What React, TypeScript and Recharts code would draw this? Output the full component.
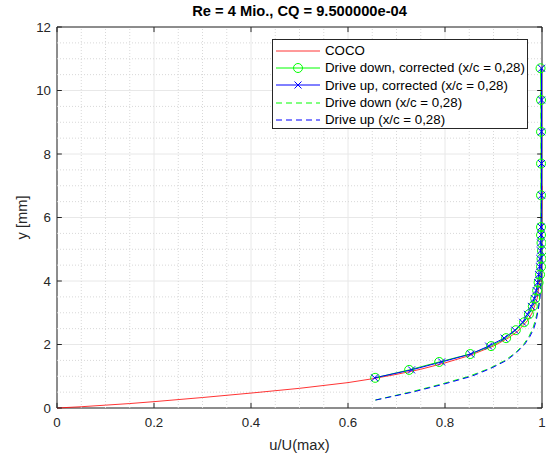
import React from 'react';
import {
  ComposedChart,
  Line,
  XAxis,
  YAxis,
  CartesianGrid,
  ReferenceLine,
  ReferenceArea,
} from 'recharts';

// axis ticks
const xTicks = [0, 0.2, 0.4, 0.6, 0.8, 1];
const yTicks = [0, 2, 4, 6, 8, 10, 12];
const xMinor = [0.05, 0.1, 0.15, 0.25, 0.3, 0.35, 0.45, 0.5, 0.55, 0.65, 0.7, 0.75, 0.85, 0.9, 0.95];
const yMinor = [0.5, 1, 1.5, 2.5, 3, 3.5, 4.5, 5, 5.5, 6.5, 7, 7.5, 8.5, 9, 9.5, 10.5, 11, 11.5];

// COCO reference profile
const cocoU = [0, 0.05, 0.1, 0.15, 0.2, 0.3, 0.4, 0.5, 0.6, 0.65, 0.7, 0.75, 0.8, 0.85, 0.9, 0.93, 0.95, 0.97, 0.98, 0.99, 0.995, 0.998, 0.999, 1.0];
const cocoY = [0, 0.04, 0.09, 0.14, 0.2, 0.33, 0.47, 0.62, 0.8, 0.92, 1.06, 1.22, 1.42, 1.65, 1.95, 2.2, 2.42, 2.75, 3.0, 3.45, 3.95, 4.7, 5.6, 7.0];

// corrected measurements
const corrY = [0.95, 1.2, 1.45, 1.7, 1.95, 2.2, 2.45, 2.7, 2.95, 3.2, 3.45, 3.7, 3.95, 4.2, 4.45, 4.7, 4.95, 5.2, 5.45, 5.7, 6.7, 7.7, 8.7, 9.7, 10.7];
const downCorrU = [0.656, 0.726, 0.788, 0.852, 0.895, 0.926, 0.946, 0.963, 0.973, 0.981, 0.986, 0.99, 0.993, 0.996, 0.998, 0.999, 1.0, 0.999, 0.998, 0.998, 0.998, 0.998, 0.998, 0.998, 0.997];
const upCorrU = [0.655, 0.731, 0.793, 0.853, 0.89, 0.922, 0.944, 0.96, 0.97, 0.978, 0.984, 0.988, 0.991, 0.993, 0.995, 0.996, 0.997, 0.997, 0.998, 0.998, 0.999, 0.999, 0.999, 0.999, 0.999];

// raw measurements (x/c = 0,28)
const rawY = [0.25, 0.5, 0.75, 1.0, 1.25, 1.5, 1.75, 2.0, 2.25, 2.5, 2.75, 3.0, 3.25, 3.5, 3.75, 4.0, 4.25, 4.5, 4.75, 5.0, 6.0, 7.0, 8.0, 9.0, 10.0];
const downRawU = [0.656, 0.728, 0.792, 0.85, 0.892, 0.924, 0.946, 0.962, 0.973, 0.981, 0.986, 0.99, 0.993, 0.995, 0.997, 0.998, 0.999, 0.999, 0.998, 0.998, 0.998, 0.998, 0.998, 0.998, 0.997];
const upRawU = [0.657, 0.733, 0.797, 0.855, 0.895, 0.927, 0.948, 0.964, 0.975, 0.983, 0.988, 0.991, 0.994, 0.996, 0.997, 0.998, 0.999, 0.999, 0.999, 0.999, 0.999, 0.999, 0.999, 0.999, 0.999];

const toPoints = (u: number[], y: number[]) => u.map((v, i) => ({ u: v, y: y[i] }));

const coco = toPoints(cocoU, cocoY);
const downCorr = toPoints(downCorrU, corrY);
const upCorr = toPoints(upCorrU, corrY);
const downRaw = toPoints(downRawU, rawY);
const upRaw = toPoints(upRawU, rawY);

const FONT = 'Arial, "Liberation Sans", Helvetica, sans-serif';
const AXIS_COLOR = '#262626';

const CrossDot = (props: any) => {
  const { cx, cy } = props;
  if (cx == null || cy == null) return <g />;
  const s = 3.5;
  return (
    <path
      d={`M${cx - s},${cy - s}L${cx + s},${cy + s}M${cx - s},${cy + s}L${cx + s},${cy - s}`}
      stroke="#0000ff"
      strokeWidth={1}
      fill="none"
    />
  );
};

const legendItems = [
  { name: 'COCO', color: '#ff0000', dash: undefined, marker: 'none' },
  { name: 'Drive down, corrected (x/c = 0,28)', color: '#00ff00', dash: undefined, marker: 'circle' },
  { name: 'Drive up, corrected (x/c = 0,28)', color: '#0000ff', dash: undefined, marker: 'cross' },
  { name: 'Drive down (x/c = 0,28)', color: '#00ff00', dash: '6 4', marker: 'none' },
  { name: 'Drive up (x/c = 0,28)', color: '#0000ff', dash: '6 4', marker: 'none' },
];

function ChartLegend() {
  return (
    <div
      style={{
        position: 'absolute',
        left: 272,
        top: 39,
        width: 256,
        height: 90,
        border: `1px solid ${AXIS_COLOR}`,
        background: '#fff',
        paddingTop: 2,
        boxSizing: 'border-box',
        fontFamily: FONT,
        fontSize: 13.3,
        color: '#000',
      }}
    >
      {legendItems.map((it) => (
        <div key={it.name} style={{ display: 'flex', alignItems: 'center', height: 17.3 }}>
          <svg width={48} height={12} style={{ marginLeft: 2, marginRight: 2 }}>
            <line x1={1} y1={6} x2={45} y2={6} stroke={it.color} strokeWidth={it.name === 'COCO' ? 0.8 : 1} strokeDasharray={it.dash} />
            {it.marker === 'circle' && <circle cx={23} cy={6} r={4.5} stroke={it.color} fill="none" />}
            {it.marker === 'cross' && (
              <path d="M19.5,2.5L26.5,9.5M19.5,9.5L26.5,2.5" stroke={it.color} strokeWidth={1} />
            )}
          </svg>
          <span style={{ whiteSpace: 'nowrap' }}>{it.name}</span>
        </div>
      ))}
    </div>
  );
}

export default function App() {
  return (
    <div style={{ position: 'absolute', left: 0, top: 0, width: 546, height: 456, background: '#fff' }}>
      <div
        style={{
          position: 'absolute',
          left: 57,
          width: 485,
          top: 3,
          textAlign: 'center',
          fontFamily: FONT,
          fontWeight: 'bold',
          fontSize: 14.7,
          color: '#000',
        }}
      >
        Re = 4 Mio., CQ = 9.500000e-04
      </div>
      <ComposedChart
        width={546}
        height={456}
        margin={{ top: 27, right: 4, bottom: 8, left: 0 }}
        style={{ position: 'absolute', left: 0, top: 0 }}
      >
        <CartesianGrid stroke="#e8e8e8" strokeWidth={1} />
        {xMinor.map((v) => (
          <ReferenceLine key={`xm${v}`} x={v} stroke="#d8d8d8" strokeDasharray="1 2" />
        ))}
        {yMinor.map((v) => (
          <ReferenceLine key={`ym${v}`} y={v} stroke="#d8d8d8" strokeDasharray="1 2" />
        ))}
        <XAxis
          dataKey="u"
          type="number"
          domain={[0, 1]}
          ticks={xTicks}
          tickFormatter={(v) => String(v)}
          axisLine={false}
          tickLine={false}
          tickSize={6}
          tickMargin={4}
          height={40}
          tick={{ fill: AXIS_COLOR, fontSize: 13.3, fontFamily: FONT }}
          label={{
            value: 'u/U(max)',
            position: 'insideBottom',
            offset: -2,
            fill: AXIS_COLOR,
            fontSize: 14.7,
            fontFamily: FONT,
          }}
        />
        <YAxis
          type="number"
          domain={[0, 12]}
          ticks={yTicks}
          axisLine={false}
          tickLine={false}
          tickSize={6}
          tickMargin={0}
          width={57}
          tick={{ fill: AXIS_COLOR, fontSize: 13.3, fontFamily: FONT }}
          label={{
            value: 'y [mm]',
            angle: -90,
            position: 'insideLeft',
            offset: 22,
            fill: AXIS_COLOR,
            fontSize: 14.7,
            fontFamily: FONT,
            style: { textAnchor: 'middle' },
          }}
        />
        <Line data={coco} dataKey="y" type="linear" stroke="#ff0000" strokeWidth={0.8} dot={false} isAnimationActive={false} />
        <Line
          data={downCorr}
          dataKey="y"
          type="linear"
          stroke="#00ff00"
          strokeWidth={1}
          dot={{ r: 4.5, stroke: '#00ff00', fill: 'none', strokeWidth: 1 }}
          activeDot={false}
          isAnimationActive={false}
        />
        <Line
          data={upCorr}
          dataKey="y"
          type="linear"
          stroke="#0000ff"
          strokeWidth={1}
          dot={<CrossDot />}
          activeDot={false}
          isAnimationActive={false}
        />
        <Line data={downRaw} dataKey="y" type="linear" stroke="#00ff00" strokeWidth={1} strokeDasharray="6 4" dot={false} isAnimationActive={false} />
        <Line data={upRaw} dataKey="y" type="linear" stroke="#0000ff" strokeWidth={1} strokeDasharray="6 4" dot={false} isAnimationActive={false} />
        {/* inward tick marks on all four sides */}
        {xTicks.map((v) => (
          <ReferenceLine key={`xb${v}`} segment={[{ x: v, y: 0 }, { x: v, y: 0.16 }]} stroke={AXIS_COLOR} />
        ))}
        {xTicks.map((v) => (
          <ReferenceLine key={`xt${v}`} segment={[{ x: v, y: 12 }, { x: v, y: 11.84 }]} stroke={AXIS_COLOR} />
        ))}
        {yTicks.map((v) => (
          <ReferenceLine key={`yl${v}`} segment={[{ x: 0, y: v }, { x: 0.01, y: v }]} stroke={AXIS_COLOR} />
        ))}
        {yTicks.map((v) => (
          <ReferenceLine key={`yr${v}`} segment={[{ x: 0.99, y: v }, { x: 1, y: v }]} stroke={AXIS_COLOR} />
        ))}
        <ReferenceArea x1={0} x2={1} y1={0} y2={12} fill="none" fillOpacity={0} stroke={AXIS_COLOR} strokeWidth={1} />
      </ComposedChart>
      <ChartLegend />
    </div>
  );
}
